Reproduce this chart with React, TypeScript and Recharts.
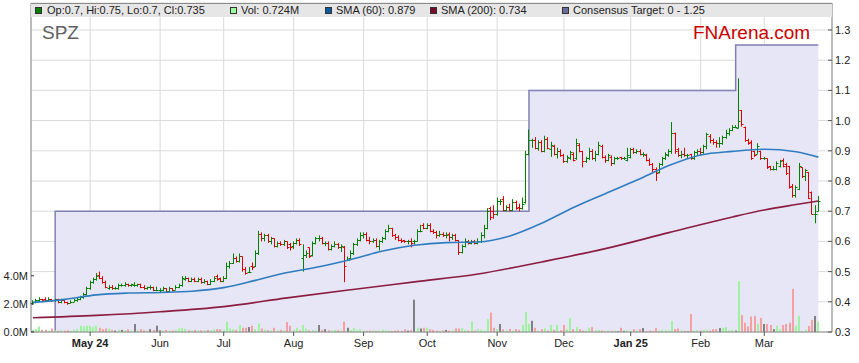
import React from 'react';
import { ComposedChart, Bar, Line, Area, XAxis, YAxis, CartesianGrid } from 'recharts';

const FONT = '"Liberation Sans", Arial, Helvetica, sans-serif';

// Daily bars: [open, high, low, close, volume (millions)]
const apr: number[][] = [
  [0.395,0.405,0.39,0.40,0.15],[0.40,0.41,0.395,0.405,0.2],[0.405,0.415,0.40,0.41,0.4],[0.41,0.41,0.40,0.405,0.16],
  [0.41,0.415,0.40,0.405,0.16],[0.405,0.415,0.40,0.41,0.1],[0.41,0.41,0.40,0.405,0.25],[0.405,0.41,0.40,0.41,0.1],
  [0.41,0.41,0.395,0.40,0.08],[0.40,0.41,0.395,0.405,0.12],[0.405,0.405,0.395,0.40,0.1],[0.40,0.40,0.39,0.395,0.12],
  [0.395,0.405,0.395,0.40,0.08],[0.40,0.41,0.40,0.405,0.15],[0.405,0.415,0.40,0.41,0.2],[0.41,0.42,0.405,0.415,0.45],
  [0.415,0.43,0.41,0.425,0.4],[0.425,0.45,0.42,0.445,0.45],
];
const may: number[][] = [
  [0.445,0.47,0.44,0.465,0.45],[0.465,0.48,0.46,0.475,0.35],[0.475,0.495,0.47,0.485,0.45],[0.49,0.50,0.475,0.48,0.3],
  [0.48,0.485,0.46,0.465,0.2],[0.465,0.47,0.445,0.45,0.25],[0.445,0.455,0.44,0.45,0.25],[0.45,0.455,0.44,0.445,0.15],
  [0.445,0.45,0.44,0.445,0.1],[0.445,0.46,0.44,0.455,0.15],[0.455,0.46,0.45,0.455,0.15],[0.455,0.465,0.45,0.46,0.12],
  [0.46,0.46,0.45,0.455,0.2],[0.455,0.46,0.45,0.46,0.1],[0.455,0.465,0.45,0.455,0.57],[0.455,0.46,0.45,0.46,0.15],
  [0.46,0.46,0.445,0.45,0.2],[0.45,0.455,0.44,0.445,0.12],[0.445,0.45,0.44,0.45,0.1],[0.45,0.455,0.44,0.45,0.2],
  [0.45,0.45,0.435,0.44,0.15],[0.44,0.45,0.435,0.44,0.45],
];
const jun: number[][] = [
  [0.44,0.445,0.43,0.44,0.12],[0.44,0.45,0.435,0.445,0.1],[0.445,0.445,0.43,0.435,0.15],[0.435,0.45,0.43,0.445,0.1],
  [0.445,0.445,0.435,0.44,0.1],[0.44,0.455,0.44,0.45,0.15],[0.45,0.46,0.445,0.455,0.25],[0.455,0.485,0.45,0.48,0.3],
  [0.475,0.485,0.47,0.48,0.2],[0.48,0.48,0.465,0.47,0.12],[0.47,0.48,0.465,0.475,0.1],[0.475,0.48,0.465,0.47,0.15],
  [0.47,0.48,0.465,0.475,0.1],[0.475,0.48,0.46,0.465,0.12],[0.465,0.475,0.46,0.47,0.1],[0.47,0.47,0.455,0.46,0.15],
  [0.46,0.475,0.455,0.47,0.12],[0.47,0.485,0.465,0.48,0.2],[0.485,0.49,0.47,0.475,0.2],[0.48,0.48,0.465,0.47,0.2],
];
const jul: number[][] = [
  [0.47,0.485,0.465,0.48,0.15],[0.48,0.53,0.475,0.52,0.74],[0.52,0.535,0.51,0.53,0.25],[0.53,0.56,0.525,0.545,0.2],
  [0.545,0.55,0.53,0.535,0.15],[0.535,0.56,0.53,0.55,0.5],[0.55,0.55,0.50,0.51,0.3],[0.51,0.515,0.49,0.495,0.3],
  [0.50,0.515,0.495,0.50,0.35],[0.52,0.53,0.505,0.515,0.45],[0.52,0.57,0.515,0.56,0.2],[0.56,0.635,0.555,0.625,0.6],
  [0.625,0.63,0.60,0.61,0.25],[0.61,0.625,0.60,0.62,0.15],[0.62,0.625,0.595,0.60,0.12],[0.60,0.615,0.59,0.61,0.1],
  [0.61,0.61,0.58,0.585,0.3],[0.585,0.60,0.58,0.595,0.12],[0.595,0.60,0.585,0.59,0.15],[0.59,0.605,0.585,0.60,0.1],
  [0.60,0.60,0.575,0.58,0.7],[0.59,0.595,0.57,0.58,0.45],
];
const aug: number[][] = [
  [0.585,0.60,0.575,0.595,0.15],[0.595,0.61,0.59,0.605,0.3],[0.605,0.61,0.585,0.59,0.12],[0.545,0.59,0.50,0.555,0.5],
  [0.555,0.57,0.545,0.56,0.25],[0.58,0.58,0.545,0.55,0.12],[0.555,0.60,0.55,0.595,0.15],[0.595,0.615,0.59,0.61,0.1],
  [0.61,0.62,0.60,0.61,0.5],[0.61,0.615,0.59,0.595,0.15],[0.595,0.60,0.585,0.595,0.2],[0.595,0.60,0.57,0.575,0.12],
  [0.575,0.59,0.57,0.585,0.1],[0.585,0.60,0.58,0.59,0.15],[0.59,0.595,0.575,0.58,0.12],[0.58,0.59,0.565,0.585,0.1],
  [0.58,0.585,0.465,0.52,0.74],[0.54,0.55,0.535,0.54,0.3],[0.545,0.57,0.54,0.56,0.15],[0.56,0.595,0.555,0.59,0.3],
  [0.59,0.61,0.585,0.605,0.12],[0.605,0.63,0.60,0.62,0.2],
];
const sep: number[][] = [
  [0.62,0.63,0.61,0.625,0.1],[0.625,0.63,0.60,0.605,0.08],[0.605,0.615,0.59,0.60,0.1],[0.60,0.61,0.595,0.605,0.12],
  [0.605,0.61,0.58,0.585,0.08],[0.585,0.605,0.57,0.60,0.1],[0.60,0.615,0.595,0.61,0.15],[0.61,0.64,0.605,0.635,0.12],
  [0.635,0.655,0.63,0.645,0.1],[0.645,0.645,0.615,0.62,0.08],[0.62,0.625,0.605,0.615,0.1],[0.615,0.62,0.60,0.605,0.12],
  [0.605,0.61,0.595,0.60,0.08],[0.605,0.605,0.595,0.60,0.2],[0.60,0.605,0.59,0.60,0.1],[0.60,0.61,0.58,0.595,0.15],
  [0.60,0.605,0.59,0.60,2.3],[0.60,0.64,0.60,0.635,0.3],[0.635,0.655,0.63,0.635,0.25],[0.655,0.66,0.64,0.645,0.3],
];
const oct: number[][] = [
  [0.645,0.66,0.64,0.655,0.3],[0.655,0.66,0.63,0.635,0.2],[0.635,0.64,0.625,0.63,0.15],[0.63,0.635,0.61,0.62,0.1],
  [0.62,0.635,0.615,0.625,0.08],[0.625,0.63,0.615,0.62,0.1],[0.62,0.63,0.61,0.62,0.15],[0.625,0.63,0.60,0.615,0.1],
  [0.615,0.625,0.605,0.62,0.12],[0.62,0.625,0.60,0.605,0.25],[0.605,0.605,0.555,0.565,0.25],[0.565,0.59,0.56,0.585,0.28],
  [0.585,0.61,0.58,0.60,0.15],[0.60,0.605,0.59,0.595,0.1],[0.595,0.605,0.59,0.60,0.74],[0.60,0.605,0.59,0.595,0.1],
  [0.595,0.61,0.59,0.60,0.2],[0.60,0.63,0.595,0.62,0.15],[0.62,0.655,0.61,0.645,0.1],[0.645,0.71,0.64,0.70,0.93],
  [0.71,0.715,0.67,0.68,1.38],[0.70,0.72,0.675,0.69,0.3],
];
const nov: number[][] = [
  [0.69,0.745,0.685,0.735,0.2],[0.735,0.74,0.72,0.735,0.57],[0.74,0.75,0.70,0.705,0.2],[0.705,0.72,0.70,0.715,0.12],
  [0.715,0.725,0.70,0.705,0.22],[0.705,0.74,0.70,0.73,0.1],[0.73,0.735,0.705,0.71,0.2],[0.715,0.725,0.70,0.71,0.15],
  [0.71,0.745,0.705,0.725,0.5],[0.73,0.90,0.725,0.89,1.43],[0.89,0.97,0.885,0.935,0.57],[0.935,0.94,0.91,0.935,0.8],
  [0.935,0.945,0.905,0.91,0.3],[0.91,0.935,0.90,0.93,0.1],[0.93,0.935,0.895,0.90,0.2],[0.90,0.95,0.895,0.94,0.25],
  [0.94,0.945,0.905,0.91,0.1],[0.905,0.93,0.88,0.92,0.5],[0.915,0.92,0.885,0.89,0.15],[0.89,0.91,0.875,0.90,0.5],
  [0.90,0.905,0.88,0.885,0.12],
];
const dec: number[][] = [
  [0.885,0.89,0.86,0.865,0.5],[0.865,0.885,0.86,0.88,0.2],[0.875,0.90,0.87,0.895,1.0],[0.89,0.895,0.865,0.87,0.2],
  [0.875,0.94,0.87,0.925,0.35],[0.92,0.925,0.895,0.90,0.2],[0.90,0.90,0.845,0.865,0.1],[0.865,0.88,0.86,0.875,0.1],
  [0.875,0.91,0.87,0.90,0.3],[0.90,0.905,0.87,0.875,0.35],[0.875,0.90,0.865,0.89,0.12],[0.89,0.93,0.885,0.92,0.15],
  [0.915,0.92,0.875,0.88,0.1],[0.88,0.885,0.86,0.87,0.05],[0.87,0.89,0.865,0.885,0.1],[0.88,0.885,0.85,0.86,0.08],
  [0.86,0.88,0.855,0.875,0.1],[0.875,0.88,0.87,0.875,0.05],[0.88,0.88,0.87,0.875,0.3],[0.875,0.88,0.87,0.875,0.08],
  [0.87,0.91,0.865,0.885,0.12],
];
const jan: number[][] = [
  [0.88,0.91,0.875,0.905,0.1],[0.905,0.91,0.89,0.895,0.2],[0.895,0.905,0.89,0.90,0.1],[0.90,0.905,0.885,0.89,0.2],
  [0.89,0.895,0.88,0.89,0.28],[0.885,0.89,0.865,0.87,0.05],[0.87,0.875,0.85,0.855,0.1],[0.855,0.86,0.83,0.84,0.08],
  [0.84,0.845,0.80,0.825,0.28],[0.83,0.86,0.825,0.855,0.1],[0.855,0.88,0.85,0.875,0.15],[0.875,0.895,0.87,0.89,0.12],
  [0.885,0.905,0.88,0.90,0.1],[0.90,0.995,0.89,0.96,0.78],[0.96,0.96,0.89,0.90,0.2],[0.905,0.91,0.88,0.885,0.25],
  [0.885,0.90,0.875,0.89,0.1],[0.89,0.91,0.88,0.885,0.08],[0.885,0.89,0.875,0.885,0.05],[0.89,0.89,0.87,0.875,1.28],
  [0.875,0.90,0.87,0.895,0.1],[0.895,0.905,0.885,0.90,0.12],
];
const feb: number[][] = [
  [0.90,0.91,0.885,0.895,0.1],[0.895,0.92,0.89,0.915,0.15],[0.915,0.96,0.905,0.955,0.15],[0.95,0.955,0.925,0.935,0.1],
  [0.935,0.94,0.92,0.93,0.2],[0.93,0.935,0.91,0.925,0.2],[0.925,0.945,0.91,0.925,0.28],[0.925,0.95,0.92,0.945,0.3],
  [0.945,0.97,0.94,0.96,0.35],[0.96,0.975,0.95,0.97,0.12],[0.97,0.985,0.965,0.98,0.15],[0.98,0.985,0.975,0.98,0.1],
  [0.975,1.14,0.975,1.00,3.6],[1.035,1.035,0.98,0.99,1.2],[0.98,0.98,0.93,0.935,0.66],[0.935,0.94,0.92,0.925,0.4],
  [0.93,0.935,0.87,0.875,1.1],[0.90,0.90,0.88,0.885,1.15],[0.89,0.925,0.89,0.915,0.57],[0.90,0.90,0.87,0.875,1.0],
];
const mar: number[][] = [
  [0.875,0.88,0.87,0.875,0.57],[0.875,0.875,0.84,0.845,0.57],[0.85,0.85,0.835,0.84,0.5],[0.84,0.85,0.835,0.84,0.2],
  [0.84,0.865,0.835,0.86,0.45],[0.85,0.87,0.845,0.865,0.2],[0.87,0.875,0.845,0.85,0.5],[0.855,0.86,0.82,0.825,0.57],
  [0.85,0.85,0.775,0.78,0.66],[0.785,0.79,0.745,0.755,3.07],[0.755,0.785,0.745,0.78,0.45],[0.775,0.86,0.77,0.85,1.15],
  [0.845,0.845,0.81,0.815,0.05],[0.815,0.84,0.80,0.835,0.14],[0.83,0.83,0.74,0.745,0.43],[0.765,0.765,0.69,0.69,0.86],
  [0.69,0.72,0.66,0.69,1.14],[0.70,0.75,0.70,0.735,0.724],
];

// Month ticks: index of first trading day of each month
const monthStartIdx = [18, 40, 60, 82, 104, 124, 146, 167, 188, 210, 230];
const monthLabels = ['May 24', 'Jun', 'Jul', 'Aug', 'Sep', 'Oct', 'Nov', 'Dec', 'Jan 25', 'Feb', 'Mar'];
const priceTicks = [0.3, 0.4, 0.5, 0.6, 0.7, 0.8, 0.9, 1.0, 1.1, 1.2, 1.3];
const volTicks = [0, 2, 4];

// Moving averages read at sample days: [day index, value]
const sma60: number[][] = [
  [0,0.398],[10,0.408],[20,0.423],[30,0.429],[40,0.431],[50,0.435],[60,0.447],[70,0.471],[80,0.497],
  [90,0.516],[100,0.54],[110,0.568],[120,0.587],[130,0.596],[140,0.598],[150,0.618],[160,0.66],
  [170,0.712],[180,0.758],[190,0.803],[200,0.851],[210,0.886],[220,0.898],[230,0.905],[240,0.897],[247,0.879],
];
const sma200: number[][] = [
  [0,0.347],[20,0.355],[40,0.367],[60,0.384],[80,0.413],[100,0.44],[120,0.466],[140,0.492],
  [160,0.532],[180,0.576],[200,0.629],[220,0.681],[230,0.704],[240,0.722],[247,0.734],
];
// Consensus target steps: [day index, target]
const target: number[][] = [[0, 0], [7, 0.7], [156, 1.1], [221, 1.25], [247, 1.25]];

const UP = '#008000';
const DOWN = '#dd0000';
const VOL_UP = '#9cf59c';
const VOL_DOWN = '#f7a0a0';
const VOL_FLAT = '#808080';

const rows = [...apr, ...may, ...jun, ...jul, ...aug, ...sep, ...oct, ...nov, ...dec, ...jan, ...feb, ...mar];
const bars = rows.map((r, i) => ({ i, o: r[0], h: r[1], l: r[2], c: r[3], v: r[4], hl: [r[2], r[1]] }));
const sma60Data = sma60.map(([i, v]) => ({ i, v }));
const sma200Data = sma200.map(([i, v]) => ({ i, v }));
const targetData = target.map(([i, t]) => ({ i, t }));

const OhlcShape = (props: any) => {
  const { x, y, width, height, payload } = props;
  if (x == null || y == null || !payload) return null;
  const cx = Math.floor(x + width / 2) + 0.5;
  const { o, h, l, c } = payload;
  const span = h - l;
  const py = (val: number) => Math.round(span > 0 ? y + ((h - val) / span) * height : y) + 0.5;
  const color = c >= o ? UP : DOWN;
  return (
    <g stroke={color} strokeWidth={1}>
      <line x1={cx} x2={cx} y1={y} y2={y + Math.max(height, 1)} />
      <line x1={cx - 2} x2={cx} y1={py(o)} y2={py(o)} />
      <line x1={cx} x2={cx + 2} y1={py(c)} y2={py(c)} />
    </g>
  );
};

const VolShape = (props: any) => {
  const { x, y, width, height, payload } = props;
  if (x == null || y == null || !payload) return null;
  const fill = payload.c > payload.o ? VOL_UP : payload.c < payload.o ? VOL_DOWN : VOL_FLAT;
  return <rect x={Math.floor(x + width / 2) - 1} y={y} width={2} height={Math.max(height, 0)} fill={fill} />;
};

const MonthTick = (props: any) => {
  const { x, y, payload } = props;
  const k = monthStartIdx.indexOf(payload.value);
  const label = k >= 0 ? monthLabels[k] : '';
  const bold = /\d/.test(label);
  return (
    <text x={x} y={y} dy="0.71em" textAnchor="middle" fontSize={11} fontWeight={bold ? 700 : 400} fill="#222" fontFamily={FONT}>
      {label}
    </text>
  );
};

const legendItems = [
  { x: 35, tx: 47, color: UP, text: 'Op:0.7, Hi:0.75, Lo:0.7, Cl:0.735' },
  { x: 230, tx: 241, color: '#99ff99', text: 'Vol: 0.724M' },
  { x: 325, tx: 336, color: '#0b5c9e', text: 'SMA (60): 0.879' },
  { x: 430, tx: 441, color: '#7a0a2a', text: 'SMA (200): 0.734' },
  { x: 562, tx: 573, color: '#6c6c9c', text: 'Consensus Target: 0 - 1.25' },
];

export default function App() {
  return (
    <div style={{ position: 'absolute', left: 0, top: 0, width: 859, height: 363, fontFamily: FONT, background: '#fff' }}>
      <ComposedChart width={859} height={363} data={bars} margin={{ top: 3, right: 0, bottom: 0, left: 0 }}>
        <CartesianGrid xAxisId="x" yAxisId="p" stroke="#dadada" strokeWidth={1} />
        <XAxis
          xAxisId="x"
          dataKey="i"
          type="number"
          domain={[-0.6, 251.3]}
          ticks={monthStartIdx}
          interval={0}
          height={31}
          tick={<MonthTick />}
          tickSize={4}
          tickMargin={3}
          axisLine={{ stroke: '#8a8a8a' }}
          tickLine={{ stroke: '#555' }}
        />
        <XAxis xAxisId="xv" dataKey="i" type="number" domain={[-0.6, 251.3]} hide />
        <YAxis
          yAxisId="p"
          orientation="right"
          type="number"
          domain={[0.3, 1.3894]}
          allowDataOverflow
          ticks={priceTicks}
          interval={0}
          width={27}
          tickFormatter={(v: number) => v.toFixed(1)}
          tick={{ fontSize: 11, fill: '#222', fontFamily: FONT }}
          tickSize={-4}
          tickMargin={7}
          axisLine={{ stroke: '#8a8a8a' }}
          tickLine={{ stroke: '#555' }}
        />
        <YAxis
          yAxisId="vol"
          orientation="left"
          type="number"
          domain={[0, 23.4]}
          allowDataOverflow
          ticks={volTicks}
          interval={0}
          width={31}
          tickFormatter={(v: number) => v.toFixed(1) + 'M'}
          tick={{ fontSize: 11, fill: '#222', fontFamily: FONT }}
          tickSize={-3}
          tickMargin={6}
          axisLine={{ stroke: '#8a8a8a' }}
          tickLine={{ stroke: '#333' }}
        />
        <Area
          xAxisId="x"
          yAxisId="p"
          data={targetData}
          dataKey="t"
          type="stepAfter"
          stroke="#8080b4"
          strokeWidth={1.5}
          fill="#e6e6f6"
          fillOpacity={1}
          dot={false}
          activeDot={false}
          isAnimationActive={false}
        />
        <Bar xAxisId="xv" yAxisId="vol" dataKey="v" barSize={2} shape={<VolShape />} isAnimationActive={false} />
        <Line xAxisId="x" yAxisId="p" data={sma200Data} dataKey="v" type="monotone" stroke="#8c1c40" strokeWidth={1.6} dot={false} activeDot={false} isAnimationActive={false} />
        <Line xAxisId="x" yAxisId="p" data={sma60Data} dataKey="v" type="monotone" stroke="#2f7dc0" strokeWidth={1.6} dot={false} activeDot={false} isAnimationActive={false} />
        <Bar xAxisId="x" yAxisId="p" dataKey="hl" barSize={3} shape={<OhlcShape />} isAnimationActive={false} />
      </ComposedChart>
      <svg width={859} height={363} style={{ position: 'absolute', left: 0, top: 0, pointerEvents: 'none' }}>
        <rect x={31} y={3} width={801} height={14} fill="#e6e6e6" />
        <line x1={31} x2={832} y1={3.5} y2={3.5} stroke="#8a8a8a" />
        {legendItems.map((it) => (
          <g key={it.text}>
            <rect x={it.x + 0.5} y={7.5} width={6} height={6} fill={it.color} stroke="#333" strokeWidth={1} />
            <text x={it.tx} y={14} fontSize={11} fill="#222" fontFamily={FONT}>{it.text}</text>
          </g>
        ))}
        <text x={42} y={39} fontSize={19} fill="#606060" fontFamily={FONT}>SPZ</text>
        <text x={693} y={39} fontSize={19} fill="#cc0000" fontFamily={FONT}>FNArena.com</text>
      </svg>
    </div>
  );
}
